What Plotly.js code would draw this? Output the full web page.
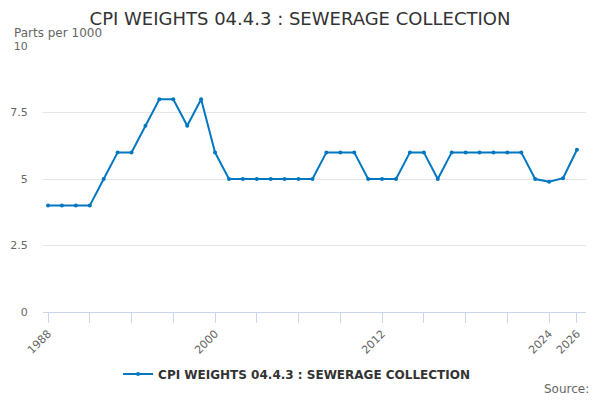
<!DOCTYPE html>
<html>
<head>
<meta charset="utf-8">
<script src="https://cdn.plot.ly/plotly-3.0.1.min.js"></script>
<style>
	body { margin: 0; }
	#chart { width: 600px; height: 400px; }
</style>
</head>
<body>
<div id="chart"></div>
<script>
// CPI weight, parts per 1000, one value per year
const years = [
	1988, 1989, 1990, 1991, 1992, 1993, 1994, 1995, 1996, 1997,
	1998, 1999, 2000, 2001, 2002, 2003, 2004, 2005, 2006, 2007,
	2008, 2009, 2010, 2011, 2012, 2013, 2014, 2015, 2016, 2017,
	2018, 2019, 2020, 2021, 2022, 2023, 2024, 2025, 2026,
]
const weights = [
	4, 4, 4, 4, 5, 6, 6, 7, 8, 8,
	7, 8, 6, 5, 5, 5, 5, 5, 5, 5,
	6, 6, 6, 5, 5, 5, 6, 6, 5, 6,
	6, 6, 6, 6, 6, 5, 4.9, 5.03, 6.1,
]
const tick_years = [1988, 1991, 1994, 1997, 2000, 2003, 2006, 2009, 2012, 2015, 2018, 2021, 2024, 2026]
const labelled_years = [1988, 2000, 2012, 2024, 2026]
const y_ticks = [0, 2.5, 5, 7.5, 10]

const series_name = 'CPI WEIGHTS 04.4.3 : SEWERAGE COLLECTION'
const font = 'DejaVu Sans, sans-serif'

Plotly.newPlot('chart', [
	{
		x: years,
		y: weights,
		type: 'scatter',
		mode: 'lines+markers',
		name: series_name,
		line: {
			color: '#0077c0',
			width: 2,
		},
		marker: {
			color: '#0077c0',
			size: 4,
		},
		hoverinfo: 'x+y',
	},
], {
	width: 600,
	height: 400,
	margin: { l: 43, r: 14, t: 46, b: 88 },
	paper_bgcolor: '#fff',
	plot_bgcolor: '#fff',
	font: { family: font, color: '#666' },
	title: {
		text: series_name,
		font: { family: font, size: 18, color: '#333' },
		x: 0.5,
		xanchor: 'center',
		y: 0.953,
		yanchor: 'middle',
	},
	showlegend: true,
	legend: {
		orientation: 'h',
		x: 0.467,
		xanchor: 'center',
		y: -0.233,
		yanchor: 'middle',
		font: { family: font, size: 12, color: '#333', weight: 'bold' },
	},
	xaxis: {
		range: [1987.64, 2026.65],
		tickvals: tick_years,
		ticktext: tick_years.map(y => labelled_years.includes(y) ? String(y) : ''),
		tickangle: -45,
		ticks: 'outside',
		ticklen: 10,
		tickcolor: '#ccd6eb',
		tickfont: { family: font, size: 11, color: '#666' },
		showline: true,
		linecolor: '#ccd6eb',
		linewidth: 1,
		showgrid: false,
		zeroline: false,
		fixedrange: true,
	},
	yaxis: {
		range: [0, 10],
		tickvals: y_ticks,
		ticktext: y_ticks.map(String),
		ticks: 'outside',
		ticklen: 12,
		tickcolor: 'rgba(0,0,0,0)',
		tickfont: { family: font, size: 11, color: '#666' },
		showgrid: true,
		gridcolor: '#e6e6e6',
		zeroline: false,
		fixedrange: true,
	},
	annotations: [
		{
			text: 'Parts per 1000',
			xref: 'paper',
			yref: 'paper',
			x: -0.058,
			xanchor: 'left',
			y: 1.048,
			yanchor: 'middle',
			showarrow: false,
			font: { family: font, size: 12, color: '#666' },
		},
		{
			text: 'Source:',
			xref: 'paper',
			yref: 'paper',
			x: 1.01,
			xanchor: 'right',
			y: -0.29,
			yanchor: 'middle',
			showarrow: false,
			font: { family: font, size: 12, color: '#666' },
		},
	],
}, { displayModeBar: false, staticPlot: true })
</script>
</body>
</html>
